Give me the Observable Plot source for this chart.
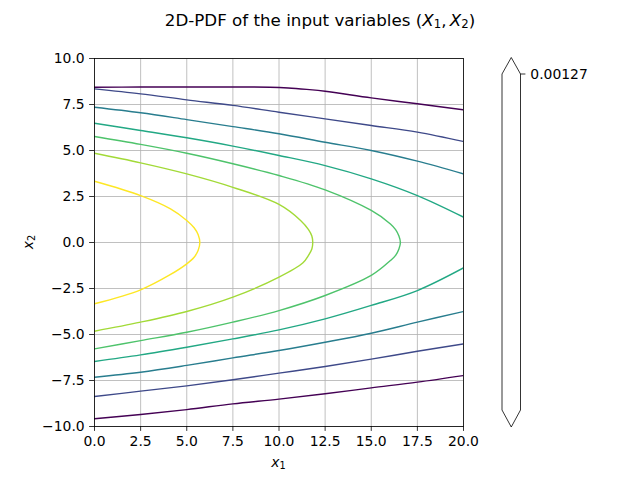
<!DOCTYPE html>
<html>
<head>
<meta charset="utf-8">
<script src="https://cdn.jsdelivr.net/npm/d3@7"></script>
<script src="https://cdn.jsdelivr.net/npm/@observablehq/plot@0.6"></script>
<style>
  html, body { margin: 0; padding: 0; background: #fff; }
  #chart { width: 640px; height: 480px; }
</style>
</head>
<body>
<div id="chart"></div>
<script>
// Tick values
const xTicks = [0, 2.5, 5, 7.5, 10, 12.5, 15, 17.5, 20];
const yTicks = [-10, -7.5, -5, -2.5, 0, 2.5, 5, 7.5, 10];
const colorbarTicks = ["0.00127"];

// Relative position of each contour level on the viridis colour map
const levelColorPos = [0, 0.22, 0.42, 0.6, 0.72, 0.86, 1];

// Sample x1 positions for the open (outer) contours
const x1Samples = [0, 2.5, 5, 7.5, 10, 12.5, 15, 17.5, 20];

// Outer contour levels (1..3): upper and lower branches (x2 values at x1Samples)
const level1Upper = [8.35, 8.08, 7.75, 7.45, 7.08, 6.72, 6.36, 6.00, 5.49];
const level1Lower = [-8.37, -8.08, -7.79, -7.46, -7.10, -6.74, -6.34, -5.91, -5.51];
const level2Upper = [7.35, 7.05, 6.68, 6.30, 5.91, 5.45, 5.00, 4.42, 3.73];
const level2Lower = [-7.32, -7.05, -6.68, -6.27, -5.87, -5.42, -4.93, -4.33, -3.75];
const level3Upper = [6.48, 6.09, 5.69, 5.24, 4.73, 4.18, 3.46, 2.55, 1.38];
const level3Lower = [-6.47, -6.11, -5.69, -5.24, -4.75, -4.15, -3.42, -2.61, -1.38];
const level0Lower = [-9.58, -9.35, -9.08, -8.77, -8.51, -8.22, -7.90, -7.59, -7.23];

// Level 0 upper branch (flat part then bending): [x1, x2]
const level0UpperPath = [[0,8.44],[2.5,8.45],[5,8.45],[7.5,8.45],[9.5,8.44],[10.5,8.40],[11.5,8.32],[12.5,8.22],[15,7.86],[17.5,7.54],[20,7.21]];

// Inner closed contour levels (4..6): [x1, x2] traced from upper-left through the tip to lower-left
const level4Path = [[0,5.76],[2.5,5.33],[5,4.85],[7.5,4.28],[10,3.64],[12.5,2.86],[15,1.74],[16.04,1.01],[16.32,0.7],[16.5,0.35],[16.58,0],
                    [16.5,-0.35],[16.32,-0.7],[16.04,-0.98],[15,-1.79],[12.5,-2.88],[10,-3.70],[7.5,-4.33],[5,-4.88],[2.5,-5.33],[0,-5.78]];
const level5Path = [[0,4.85],[2.5,4.33],[5,3.73],[7.5,3.00],[10,2.07],[11.17,1.2],[11.6,0.7],[11.78,0.35],[11.83,0],
                    [11.78,-0.35],[11.6,-0.7],[11.3,-1.1],[10,-1.88],[7.5,-2.97],[5,-3.75],[2.5,-4.33],[0,-4.82]];
const level6Path = [[0,3.33],[2.5,2.55],[4.12,1.83],[5,1.2],[5.4,0.8],[5.62,0.42],[5.71,0],
                    [5.62,-0.42],[5.4,-0.8],[5,-1.16],[4.1,-1.75],[2.5,-2.57],[0,-3.33]];

const nLevels = levelColorPos.length;

// Build a tidy table for the library
const rows = [];
[[level1Upper, level1Lower], [level2Upper, level2Lower], [level3Upper, level3Lower]]
  .forEach(([up, lo], k) => {
    const lvl = k + 1;
    x1Samples.forEach((x, i) => rows.push({x1: x, x2: up[i], level: lvl, branch: lvl + "u"}));
    x1Samples.forEach((x, i) => rows.push({x1: x, x2: lo[i], level: lvl, branch: lvl + "l"}));
  });
level0UpperPath.forEach(([x, y]) => rows.push({x1: x, x2: y, level: 0, branch: "0u"}));
x1Samples.forEach((x, i) => rows.push({x1: x, x2: level0Lower[i], level: 0, branch: "0l"}));
[level4Path, level5Path, level6Path].forEach((path, k) => {
  const lvl = 4 + k;
  path.forEach(([x, y]) => rows.push({x1: x, x2: y, level: lvl, branch: lvl + "c"}));
});

const FONT = "DejaVu Sans";
const FS = 13.9;

const svg = Plot.plot({
  width: 640,
  height: 480,
  marginLeft: 94,
  marginRight: 177,
  marginTop: 58,
  marginBottom: 54,
  style: {fontFamily: FONT, fontSize: FS + "px", background: "white", color: "black"},
  x: {domain: [0, 20], ticks: xTicks, tickFormat: d3.format(".1f"), label: null},
  y: {domain: [-10, 10], ticks: yTicks, tickFormat: d3.format(".1f"), label: null},
  color: {type: "ordinal", domain: d3.range(nLevels), range: levelColorPos.map(t => d3.interpolateViridis(t))},
  marks: [
    Plot.gridX(xTicks, {stroke: "#b0b0b0", strokeOpacity: 1, strokeWidth: 0.8}),
    Plot.gridY(yTicks, {stroke: "#b0b0b0", strokeOpacity: 1, strokeWidth: 0.8}),
    Plot.line(rows, {x: "x1", y: "x2", z: "branch", stroke: "level", strokeWidth: 1.4, curve: "catmull-rom", clip: true}),
    Plot.frame({stroke: "black", strokeWidth: 0.8}),
    Plot.axisX(xTicks, {tickFormat: d3.format(".1f"), tickSize: 4.9, tickPadding: 4.9, fontSize: FS, label: null, strokeWidth: 0.8}),
    Plot.axisY(yTicks, {tickFormat: d3.format(".1f"), tickSize: 4.9, tickPadding: 4.9, fontSize: FS, label: null, strokeWidth: 0.8})
  ]
});

document.getElementById("chart").appendChild(svg);
const s = d3.select(svg);

// Title (suptitle)
const title = s.append("text")
  .attr("x", 320).attr("y", 25.5)
  .attr("text-anchor", "middle")
  .attr("font-family", FONT).attr("font-size", 16.7).attr("fill", "black");
title.append("tspan").text("2D-PDF of the input variables (");
title.append("tspan").attr("font-style", "italic").text("X");
title.append("tspan").attr("font-size", "70%").attr("dy", "0.25em").text("1");
title.append("tspan").attr("dy", "-0.175em").text(",\u2009");
title.append("tspan").attr("font-style", "italic").text("X");
title.append("tspan").attr("font-size", "70%").attr("dy", "0.25em").text("2");
title.append("tspan").attr("dy", "-0.175em").text(")");

// x label
const xl = s.append("text")
  .attr("x", 278.5).attr("y", 467)
  .attr("text-anchor", "middle")
  .attr("font-family", FONT).attr("font-size", FS).attr("fill", "black");
xl.append("tspan").attr("font-style", "italic").text("x");
xl.append("tspan").attr("font-size", "70%").attr("dy", "0.25em").text("1");

// y label
const yl = s.append("text")
  .attr("transform", "translate(33,242) rotate(-90)")
  .attr("text-anchor", "middle")
  .attr("font-family", FONT).attr("font-size", FS).attr("fill", "black");
yl.append("tspan").attr("font-style", "italic").text("x");
yl.append("tspan").attr("font-size", "70%").attr("dy", "0.25em").text("2");

// Colorbar (empty, extended both ways)
const cb = {x0: 502, x1: 520.5, top: 74, bottom: 410, tipTop: 57.5, tipBottom: 427};
const cbScale = d3.scaleLinear().domain([0, 1]).range([cb.top, cb.bottom]);
const cx = (cb.x0 + cb.x1) / 2;
s.append("path")
  .attr("d", `M${cb.x0},${cb.top}L${cx},${cb.tipTop}L${cb.x1},${cb.top}L${cb.x1},${cb.bottom}L${cx},${cb.tipBottom}L${cb.x0},${cb.bottom}Z`)
  .attr("fill", "white").attr("stroke", "black").attr("stroke-width", 0.8);
colorbarTicks.forEach((t, i) => {
  const y = cbScale(i);
  s.append("line").attr("x1", cb.x1).attr("x2", cb.x1 + 4.9).attr("y1", y).attr("y2", y)
    .attr("stroke", "black").attr("stroke-width", 0.8);
  s.append("text").attr("x", cb.x1 + 9.8).attr("y", y).attr("dy", "0.36em")
    .attr("text-anchor", "start")
    .attr("font-family", FONT).attr("font-size", FS).attr("fill", "black").text(t);
});
</script>
</body>
</html>
